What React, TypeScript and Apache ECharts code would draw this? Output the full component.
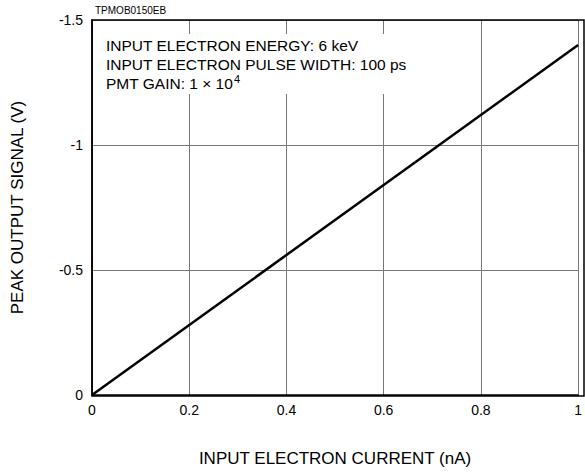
import React, { useEffect, useRef } from "react";
import * as echarts from "echarts";

const currentNA: number[] = [0, 1];
const peakSignalV: number[] = [0, -1.4];
const xTicks: number[] = [0, 0.2, 0.4, 0.6, 0.8, 1];
const yTicks: number[] = [-1.5, -1, -0.5, 0];
const notes: string[] = [
  "INPUT ELECTRON ENERGY: 6 keV",
  "INPUT ELECTRON PULSE WIDTH: 100 ps",
];

const FONT = "'Liberation Sans', Arial, Helvetica, sans-serif";

export default function App() {
  const ref = useRef<HTMLDivElement>(null);
  useEffect(() => {
    if (!ref.current) return;
    const chart = echarts.init(ref.current, undefined, { renderer: "svg" });
    chart.setOption({
      animation: false,
      backgroundColor: "#ffffff",
      textStyle: { fontFamily: FONT },
      grid: { left: 92, right: 1, top: 20, bottom: 76, containLabel: false },
      xAxis: {
        type: "value",
        min: 0,
        max: 1,
        interval: 0.2,
        name: "INPUT ELECTRON CURRENT (nA)",
        nameLocation: "middle",
        nameGap: 55,
        nameTextStyle: { fontSize: 17, color: "#000", fontFamily: FONT },
        axisLine: { show: true, lineStyle: { color: "#000", width: 1.5 } },
        axisTick: { show: false },
        axisLabel: {
          color: "#000",
          fontSize: 14,
          fontFamily: FONT,
          margin: 8,
          formatter: (v: number) => (xTicks.some((t) => Math.abs(t - v) < 1e-9) ? String(+v.toFixed(1)) : ""),
        },
        splitLine: { show: true, lineStyle: { color: "#777", width: 1 } },
      },
      yAxis: {
        type: "value",
        min: -1.5,
        max: 0,
        interval: 0.5,
        inverse: true,
        name: "PEAK OUTPUT SIGNAL (V)",
        nameLocation: "middle",
        nameGap: 66,
        nameRotate: 90,
        nameTextStyle: { fontSize: 17, color: "#000", fontFamily: FONT },
        axisLine: { show: true, lineStyle: { color: "#000", width: 1.5 } },
        axisTick: { show: false },
        axisLabel: {
          color: "#000",
          fontSize: 14,
          fontFamily: FONT,
          margin: 9,
          formatter: (v: number) => (yTicks.some((t) => Math.abs(t - v) < 1e-9) ? String(+v.toFixed(1)) : ""),
        },
        splitLine: { show: true, lineStyle: { color: "#777", width: 1 } },
      },
      graphic: [
        {
          type: "rect",
          shape: { x: 100, y: 34, width: 322, height: 60 },
          style: { fill: "#ffffff", stroke: "none" },
          silent: true,
          z: 1,
        },
        {
          type: "rect",
          shape: { x: 92, y: 20, width: 492, height: 376 },
          style: { fill: "none", stroke: "#000", lineWidth: 1.5 },
          silent: true,
          z: 10,
        },
        {
          type: "text",
          x: 95,
          y: 5,
          z: 11,
          style: { text: "TPMOB0150EB", fill: "#000", font: `10px ${FONT}` },
        },
        {
          type: "text",
          x: 106,
          y: 37,
          z: 11,
          style: { text: notes[0], fill: "#000", font: `15.5px ${FONT}` },
        },
        {
          type: "text",
          x: 106,
          y: 56,
          z: 11,
          style: { text: notes[1], fill: "#000", font: `15.5px ${FONT}` },
        },
        {
          type: "text",
          x: 106,
          y: 73,
          z: 11,
          style: {
            text: "{a|PMT GAIN: 1 × 10}{s|4}",
            rich: {
              a: { fontSize: 15.5, fontFamily: FONT, fill: "#000", color: "#000", verticalAlign: "bottom" },
              s: { fontSize: 11, fontFamily: FONT, fill: "#000", color: "#000", verticalAlign: "top", padding: [0, 0, 7, 1] },
            },
          },
        },
      ],
      series: [
        {
          type: "line",
          data: currentNA.map((x, i) => [x, peakSignalV[i]]),
          showSymbol: false,
          lineStyle: { color: "#000", width: 2.5 },
          z: 5,
        },
      ],
    });
    return () => chart.dispose();
  }, []);
  return <div ref={ref} style={{ width: 585, height: 472, position: "absolute", left: 0, top: 0 }} />;
}
